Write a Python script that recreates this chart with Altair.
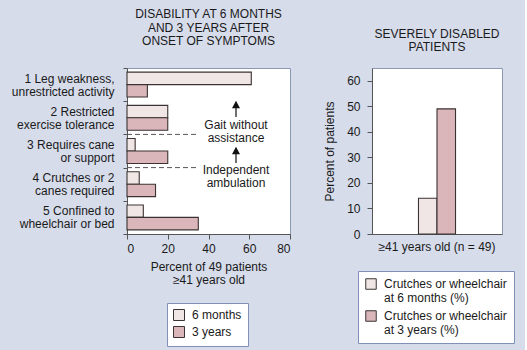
import altair as alt
import pandas as pd

# ---------------- data ----------------
categories = [
    "1 Leg weakness,|unrestricted activity",
    "2 Restricted|exercise tolerance",
    "3 Requires cane|or support",
    "4 Crutches or 2|canes required",
    "5 Confined to|wheelchair or bed",
]
series = ["6 months", "3 years"]
six_months = [61, 20, 4, 6, 8]
three_years = [10, 20, 20, 14, 35]

# dashed separators sit on the top edge of these category bands
separator_cats = [categories[2], categories[3]]
separator_extent = [0, 35]
note_cats = [categories[1], categories[3]]
note_texts = ["Gait without\nassistance", "Independent\nambulation"]
note_pos = [0.717, 0.072]
arrow_cats = [categories[1], categories[2]]
arrow_pos = [0.25, 0.636]
note_x = [53.5, 53.5]

severe_group = ["≥41 years old (n = 49)"]
severe_series = ["Crutches or wheelchair|at 6 months (%)", "Crutches or wheelchair|at 3 years (%)"]
severe_values = [14, 49]

# ---------------- styles ----------------
FONT = "Liberation Sans"
C_LIGHT = "#f1e6e6"
C_DARK = "#dab6ba"
STROKE = "#3b3333"
BG = "#d6dcea"
LEGEND_STROKE = "#8090b6"
TXT = "#1a1a1a"

left_df = pd.DataFrame(
    [{"cat": c, "series": series[0], "value": v} for c, v in zip(categories, six_months)]
    + [{"cat": c, "series": series[1], "value": v} for c, v in zip(categories, three_years)]
)
sep_df = pd.DataFrame({"cat": separator_cats})

axis_font = dict(labelFont=FONT, titleFont=FONT, labelFontSize=12, titleFontSize=12,
                 titleFontWeight="normal", labelColor=TXT, titleColor=TXT,
                 domainColor="#555555", tickColor="#555555")


def X(field="value"):
    return alt.X(
        field, type="quantitative",
        scale=alt.Scale(domain=[0, 80], nice=False),
        axis=alt.Axis(values=[0, 20, 40, 60, 80], title=["Percent of 49 patients", "≥41 years old"],
                      grid=False, tickSize=5, labelPadding=4, titlePadding=7, titleLineHeight=13,
                      **axis_font),
    )


def Y(bp=None):
    kw = {}
    if bp is not None:
        kw["bandPosition"] = bp
    return alt.Y(
        "cat:N", sort=categories,
        scale=alt.Scale(paddingInner=0, paddingOuter=0),
        axis=alt.Axis(title=None, labelExpr="split(datum.label, '|')", labelLineHeight=13,
                      labelOffset=-6.5, tickBand="extent", tickSize=4, labelPadding=9,
                      **axis_font),
        **kw,
    )


bars = alt.Chart(left_df).mark_bar(stroke=STROKE, strokeWidth=1.1).encode(
    y=Y(),
    yOffset=alt.YOffset("series:N", sort=series, scale=alt.Scale(paddingInner=0, paddingOuter=0.333)),
    x=X(),
    color=alt.Color(
        "series:N", sort=series,
        scale=alt.Scale(domain=series, range=[C_LIGHT, C_DARK]),
        legend=alt.Legend(title=None, orient="none", legendX=40, legendY=235, padding=6,
                          rowPadding=1, fillColor="white", strokeColor=LEGEND_STROKE,
                          symbolType="square", symbolSize=121, symbolStrokeColor=STROKE,
                          symbolStrokeWidth=1, labelFontSize=12, labelOffset=7),
    ),
)

rules = alt.Chart(sep_df).mark_rule(color="#555555", strokeDash=[5, 3], strokeWidth=1).encode(
    y=Y(0),
    x=alt.datum(separator_extent[0]),
    x2=alt.datum(separator_extent[1]),
)

note_layers = []
for c, t, p, xv in zip(note_cats, note_texts, note_pos, note_x):
    note_layers.append(
        alt.Chart(pd.DataFrame({"cat": [c], "text": [t], "value": [xv]})).mark_text(
            lineBreak="\n", fontSize=12, font=FONT, align="center", baseline="middle",
            lineHeight=13, color=TXT
        ).encode(y=Y(p), x=X(), text="text:N")
    )

ARROW = "M0,-1L0.4,-0.25L-0.4,-0.25Z M0,-0.3L0,1"
arrow_layers = []
for c, p, xv in zip(arrow_cats, arrow_pos, note_x):
    arrow_layers.append(
        alt.Chart(pd.DataFrame({"cat": [c], "value": [xv]})).mark_point(
            shape=ARROW, size=225, filled=True, fill="#111111", stroke="#111111",
            strokeWidth=1.2, opacity=1
        ).encode(y=Y(p), x=X())
    )

title_kw = dict(anchor="middle", frame="group", fontSize=12, fontWeight="normal", font=FONT,
                color=TXT, lineHeight=13.5, offset=14)

left = alt.layer(bars, rules, *note_layers, *arrow_layers).properties(
    width=163, height=166,
    title=alt.Title(["DISABILITY AT 6 MONTHS", "AND 3 YEARS AFTER", "ONSET OF SYMPTOMS"], **title_kw),
)

right_df = pd.DataFrame({"group": severe_group * 2, "series": severe_series, "value": severe_values})
right = alt.Chart(right_df).mark_bar(stroke=STROKE, strokeWidth=1.1).encode(
    x=alt.X("group:N", scale=alt.Scale(paddingInner=0, paddingOuter=1),
            axis=alt.Axis(title=None, ticks=False, labelPadding=7, labelAngle=0, **axis_font)),
    xOffset=alt.XOffset("series:N", sort=severe_series, scale=alt.Scale(paddingInner=0, paddingOuter=0.17)),
    y=alt.Y("value:Q", scale=alt.Scale(domain=[0, 65], nice=False),
            axis=alt.Axis(values=[0, 10, 20, 30, 40, 50, 60], title="Percent of patients", grid=False,
                          tickSize=5, labelPadding=7, titlePadding=10, **axis_font)),
    color=alt.Color(
        "series:N", sort=severe_series,
        scale=alt.Scale(domain=severe_series, range=[C_LIGHT, C_DARK]),
        legend=alt.Legend(title=None, orient="none", legendX=-14, legendY=203, padding=7,
                          rowPadding=4, fillColor="white", strokeColor=LEGEND_STROKE,
                          symbolType="square", symbolSize=110, symbolStrokeColor=STROKE,
                          symbolStrokeWidth=1, labelFontSize=12, labelOffset=7,
                          labelExpr="split(datum.label, '|')"),
    ),
).properties(
    width=130, height=166,
    title=alt.Title(["SEVERELY DISABLED", "PATIENTS"], **title_kw),
)

chart = (
    alt.hconcat(left, right, spacing=82, bounds="flush")
    .resolve_scale(color="independent", x="independent", y="independent")
    .resolve_legend(color="independent")
    .properties(background=BG, padding={"left": 10, "top": 7, "right": 10, "bottom": 8})
    .configure_legend(labelFont=FONT, labelColor=TXT)
    .configure_view(stroke="#8c97b3", fill="white")
)

chart.save("out.html", embed_options={"renderer": "svg", "actions": False})
